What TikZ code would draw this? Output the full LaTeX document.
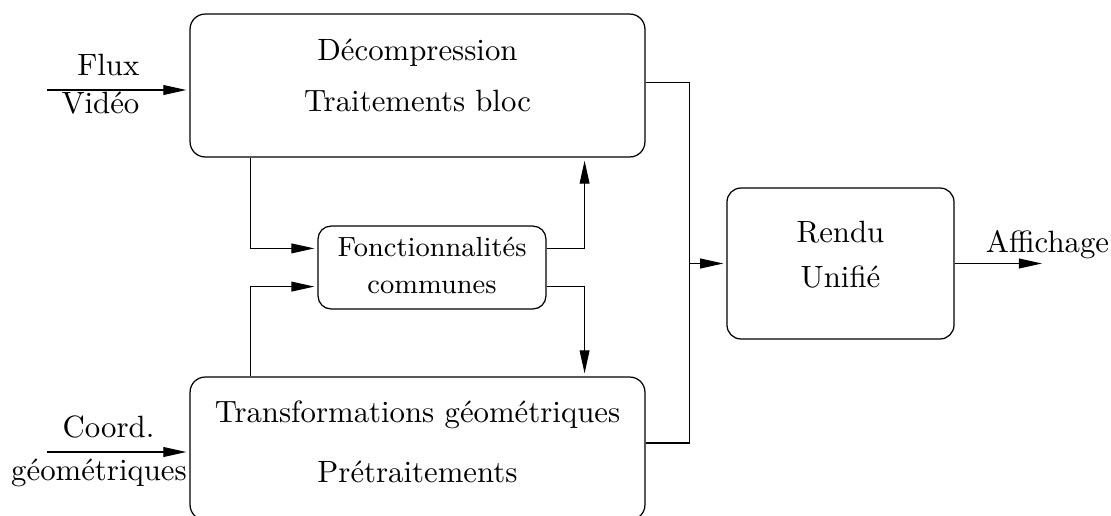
\documentclass[tikz,border=0pt]{standalone}
\usepackage{tikz}
\usetikzlibrary{arrows.meta,positioning,calc}
\begin{document}
\begin{tikzpicture}[x=0.3247pt,y=-0.3247pt,
  every node/.style={align=center,inner sep=0pt},
  block/.style={draw,rounded corners=4.9pt,minimum width=147.7pt,minimum height=46.4pt},
  render/.style={draw,rounded corners=4.5pt,minimum width=73.7pt,minimum height=49pt,text height=21.6pt,text depth=6.3pt},
  common/.style={draw,rounded corners=4.2pt,font=\small,minimum width=74pt,minimum height=26.9pt,text height=18pt,text depth=1.4pt},
  flow/.style={-{Triangle[length=7.5pt,width=3.2pt]},shorten >=1pt}]

    \useasboundingbox (0,0) rectangle (1111,515);

    \node[block,text height=23.6pt,text depth=6.4pt](dec) at (417.5,85.5) {Décompression\\[4.56pt]Traitements bloc};
    \node[block,text height=26.2pt,text depth=4.4pt](geo) at (417.5,448.5) {Transformations géométriques\\[7.2pt]Prétraitements};
    \node[common](fct) at (432,267.5) {Fonctionnalités\\[1pt]communes};
    \node[render](ren) at (840.5,263.5) {Rendu\\[2.6pt]Unifié};

    \node[anchor=base east](flux) at (140,75) {Flux};
    \node[anchor=base east](video) at (140,113) {Vidéo};
    \node[anchor=base](coord) at (108.5,437) {Coord.};
    \node[anchor=base](geom) at (99,480) {géométriques};
    \node[anchor=base](aff) at (1047.5,252) {Affichage};

    \coordinate (fluxin) at (47,90);
    \coordinate (coordin) at (47,452);
    \coordinate (affout) at (1045,263.5);
    \coordinate (merge) at ([xshift=-12pt]ren.west);

    \draw[flow](fluxin) -- (fluxin -| dec.west);
    \draw[flow](coordin) -- (coordin -| geo.west);
    \draw[flow]([xshift=19.8pt]dec.south west) |- ([yshift=6.2pt]fct.west);
    \draw[flow]([xshift=19.8pt]geo.north west) |- ([yshift=-6.2pt]fct.west);
    \draw[flow]([yshift=6.2pt]fct.east) -| ([xshift=-19.8pt]dec.south east);
    \draw[flow]([yshift=-6.2pt]fct.east) -| ([xshift=-19.8pt]geo.north east);
    \draw([yshift=1.1pt]dec.east) -| (merge);
    \draw([yshift=1.8pt]geo.east) -| (merge);
    \draw[flow](merge) -- (ren.west);
    \draw[flow](ren.east) -- (affout);
\end{tikzpicture}
\end{document}
